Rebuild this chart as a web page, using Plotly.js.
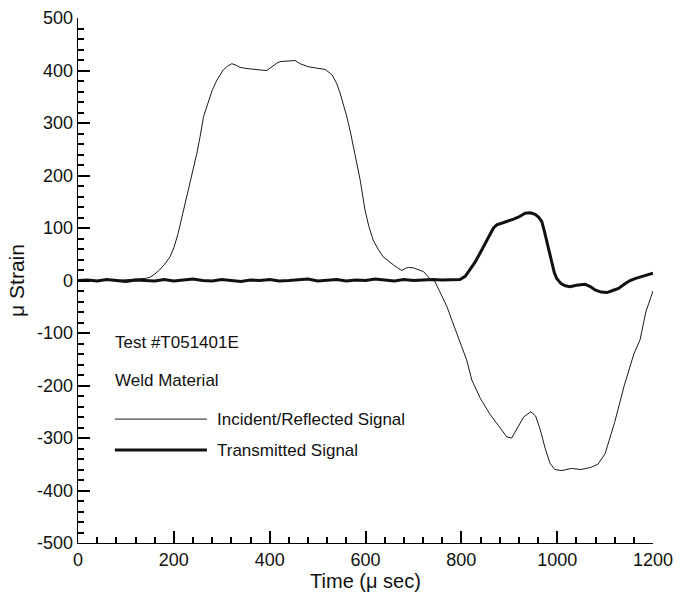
<!DOCTYPE html>
<html>
<head>
<meta charset="utf-8">
<script src="https://cdn.plot.ly/plotly-3.0.1.min.js"></script>
<style>html,body{margin:0;padding:0;background:#fff;}#chart{width:681px;height:604px;}</style>
</head>
<body>
<div id="chart"></div>
<script>
// Incident/Reflected signal (thin line)
var incidentTime = [0,20,40,60,80,100,120,140,150,160,170,180,192,200,209,218,227,238,248,255,262,272,280,290,297,303,312,321,330,338,350,366,380,394,401,408,415,422,435,453,463,472,481,495,516,530,540,547,554,561,568,575,582,589,599,607,616,626,637,647,658,667,676,683,690,700,714,721,728,735,745,757,770,780,791,801,811,822,840,860,880,895,905,915,930,945,955,965,975,985,995,1010,1030,1050,1070,1085,1100,1120,1140,1160,1173,1185,1190,1200];
var incidentStrain = [0,1,0,1,0,1,2,4,6,12,20,30,45,62,90,125,160,200,242,275,312,340,362,382,393,401,408,413,410,406,404,402,401,400,405,410,414,417,418,419,413,410,407,405,402,392,375,357,335,312,285,255,222,191,134,103,77,60,45,37,30,24,19,23,25,24,20,17,10,3,-2,-25,-50,-75,-101,-126,-151,-190,-225,-255,-280,-298,-300,-285,-260,-250,-258,-285,-320,-348,-360,-362,-358,-360,-356,-350,-330,-270,-200,-140,-113,-60,-47,-20];

// Transmitted signal (thick line)
var transmittedTime = [0,20,40,60,80,100,120,140,160,180,200,220,240,260,280,300,320,340,360,380,400,420,440,460,480,500,520,540,560,580,600,620,640,660,680,700,720,740,760,780,797,808,818,828,839,850,860,867,874,881,888,898,909,920,933,944,954,961,968,973,978,984,989,994,999,1008,1017,1027,1040,1058,1070,1079,1092,1104,1116,1128,1140,1152,1164,1176,1190,1200];
var transmittedStrain = [0,1,-1,2,0,-2,1,0,-1,2,-1,1,3,0,-1,2,0,-2,1,0,2,-1,0,1,3,-1,0,2,-1,1,0,3,1,-1,2,0,1,2,1,2,2,8,20,34,52,72,90,100,106,108,110,113,117,121,128,129,126,121,112,95,77,55,33,15,4,-6,-10,-12,-9,-7,-12,-18,-22,-23,-19,-15,-7,0,4,7,11,14];

// Tick labels
var yTickVals = [-500,-400,-300,-200,-100,0,100,200,300,400,500];
var yTickText = ["-500","-400","-300","-200","-100","0","100","200","300","400","500"];

// Legend / notes
var noteLines = ["Test #T051401E", "Weld Material"];
var seriesNames = ["Incident/Reflected Signal", "Transmitted Signal"];

var FONT = "Liberation Sans, Arial, Helvetica, sans-serif";
var INK = "black";

var traces = [
  {x: incidentTime, y: incidentStrain, type: "scatter", mode: "lines", name: seriesNames[0],
   line: {color: "#1a1a1a", width: 1}, showlegend: false},
  {x: transmittedTime, y: transmittedStrain, type: "scatter", mode: "lines", name: seriesNames[1],
   line: {color: "#111", width: 3}, showlegend: false},
  {x: [0], y: [0], xaxis: "x", yaxis: "y2", type: "scatter", mode: "markers", marker: {opacity: 0}, hoverinfo: "skip", showlegend: false},
  {x: [0], y: [0], xaxis: "x", yaxis: "y3", type: "scatter", mode: "markers", marker: {opacity: 0}, hoverinfo: "skip", showlegend: false},
  {x: [0], y: [0], xaxis: "x2", yaxis: "y", type: "scatter", mode: "markers", marker: {opacity: 0}, hoverinfo: "skip", showlegend: false}
];

var legendY = [-264, -323];
var noteFont = {family: FONT, size: 17, color: "#111"};
var annotations = [
  {x: 73, y: -119, xref: "x", yref: "y", text: noteLines[0], showarrow: false, xanchor: "left", yanchor: "middle", font: noteFont},
  {x: 73, y: -191, xref: "x", yref: "y", text: noteLines[1], showarrow: false, xanchor: "left", yanchor: "middle", font: noteFont},
  {x: 286, y: legendY[0], xref: "x", yref: "y", text: seriesNames[0], showarrow: false, xanchor: "left", yanchor: "middle", font: noteFont},
  {x: 286, y: legendY[1], xref: "x", yref: "y", text: seriesNames[1], showarrow: false, xanchor: "left", yanchor: "middle", font: noteFont}
];
var shapes = [
  {type: "line", xref: "x", yref: "y", x0: 77, x1: 269, y0: legendY[0], y1: legendY[0], line: {color: "#1a1a1a", width: 1}},
  {type: "line", xref: "x", yref: "y", x0: 77, x1: 269, y0: legendY[1], y1: legendY[1], line: {color: "#111", width: 3}}
];

var tickFont = {family: FONT, size: 18, color: "#111"};

var layout = {
  width: 681, height: 604,
  margin: {l: 78, r: 28, t: 18, b: 61},
  font: {family: FONT, size: 18, color: "#111"},
  showlegend: false,
  xaxis: {
    range: [0, 1200], dtick: 200,
    showline: true, linecolor: INK, linewidth: 1,
    ticks: "inside", ticklen: 12, tickwidth: 1.5, tickcolor: INK,
    showgrid: false, zeroline: false,
    tickfont: tickFont,
    title: {text: "Time (\u03bc sec)", font: {family: FONT, size: 20, color: "#111"}, standoff: 2}
  },
  xaxis2: {
    overlaying: "x", side: "bottom", anchor: "y", range: [0, 1200], dtick: 40,
    ticks: "inside", ticklen: 6, tickwidth: 1.5, tickcolor: INK,
    showticklabels: false, showline: false, showgrid: false, zeroline: false
  },
  yaxis: {
    range: [-500, 500], dtick: 100,
    showline: true, linecolor: INK, linewidth: 1,
    ticks: "inside", ticklen: 12, tickwidth: 1.5, tickcolor: INK,
    showgrid: false, zeroline: false, showticklabels: false
  },
  yaxis2: {
    overlaying: "y", side: "left", anchor: "x", range: [-500, 500],
    tickmode: "array", tickvals: yTickVals, ticktext: yTickText,
    ticks: "", showline: false, showgrid: false, zeroline: false,
    tickfont: tickFont, ticklabelstandoff: 4,
    title: {text: "\u03bc Strain", font: {family: FONT, size: 21, color: "#111"}, standoff: 6}
  },
  yaxis3: {
    overlaying: "y", side: "left", anchor: "x", range: [-500, 500], dtick: 20,
    ticks: "inside", ticklen: 6, tickwidth: 1.5, tickcolor: INK,
    showticklabels: false, showline: false, showgrid: false, zeroline: false
  },
  annotations: annotations,
  shapes: shapes
};

Plotly.newPlot("chart", traces, layout, {displayModeBar: false});
</script>
</body>
</html>
